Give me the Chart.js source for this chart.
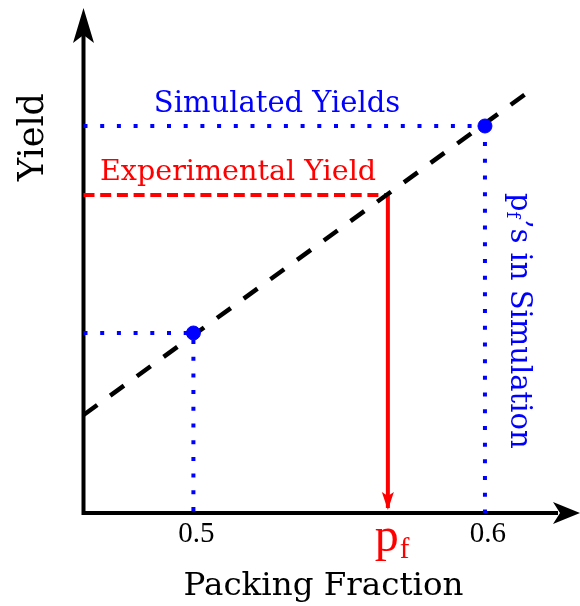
<!DOCTYPE html>
<html>
<head>
<meta charset="utf-8">
<title>Yield vs Packing Fraction</title>
<script src="https://cdn.jsdelivr.net/npm/chart.js@4.4.1/dist/chart.umd.min.js"></script>
<style>
  body { margin: 0; background: #fff; }
  #wrap { width: 580px; height: 606px; }
</style>
</head>
<body>
<div id="wrap"><canvas id="chart" width="580" height="606"></canvas></div>
<script>
/* =====================
  Data
===================== */
var xRange = [0.4623, 0.6326];
var yRange = [0, 5.05];

var tickValues = [0.5, 0.6];
var tickLabels = ['0.5', '0.6'];

// simulated packing fractions and their yields
var simX = [0.5, 0.6];
var simYield = [1.80, 3.87];

// dashed fit line end points
var fitX = [0.4623, 0.6144];
var fitY = [0.98, 4.20];

// experimental yield and the p_f it maps to
var expX = [0.5667];
var expYield = [3.18];
var arrowEndY = [0.05];

var BLUE = '#0000ff';
var RED = '#ff0000';

/* =====================
  Datasets
===================== */
var guideData = function(i) {
  return [
    {x: xRange[0], y: simYield[i]},
    {x: simX[i], y: simYield[i]},
    {x: simX[i], y: yRange[0]}
  ];
};

var datasets = [];

datasets.push({
  label: 'Simulated Yields',
  data: simX.map(function(x, i) { return {x: x, y: simYield[i]}; }),
  backgroundColor: BLUE,
  borderColor: BLUE,
  pointRadius: 7,
  showLine: false,
  order: 0
});

datasets.push({
  label: 'fit',
  data: fitX.map(function(x, i) { return {x: x, y: fitY[i]}; }),
  borderColor: '#000',
  borderWidth: 4.5,
  borderDash: [17, 16],
  pointRadius: 0,
  showLine: true,
  order: 1
});

datasets.push({
  label: 'Experimental Yield',
  data: [{x: xRange[0], y: expYield[0]}, {x: expX[0], y: expYield[0]}],
  borderColor: RED,
  borderWidth: 4,
  borderDash: [11, 5.7],
  pointRadius: 0,
  showLine: true,
  order: 2
});

datasets.push({
  label: 'pf arrow',
  data: [{x: expX[0], y: expYield[0]}, {x: expX[0], y: arrowEndY[0]}],
  borderColor: RED,
  borderWidth: 4,
  pointRadius: 0,
  showLine: true,
  order: 2
});

simX.forEach(function(x, i) {
  datasets.push({
    label: 'guide ' + i,
    data: guideData(i),
    borderColor: BLUE,
    borderWidth: 4,
    borderDash: [4, 12.7],
    pointRadius: 0,
    showLine: true,
    order: 3
  });
});

datasets.forEach(function(d) { d.clip = false; });

/* =====================
  Drawing helpers
===================== */
var arrowHead = function(ctx, pts) {
  ctx.beginPath();
  ctx.moveTo(pts[0][0], pts[0][1]);
  for (var i = 1; i < pts.length; i++) ctx.lineTo(pts[i][0], pts[i][1]);
  ctx.closePath();
  ctx.fill();
};

var axesPlugin = {
  id: 'axes',
  beforeDatasetsDraw: function(chart) {
    var ctx = chart.ctx, a = chart.chartArea;
    ctx.save();
    ctx.strokeStyle = '#000';
    ctx.fillStyle = '#000';
    ctx.lineWidth = 4;
    ctx.beginPath();
    ctx.moveTo(a.left, a.top + 25);
    ctx.lineTo(a.left, a.bottom);
    ctx.lineTo(a.right - 22, a.bottom);
    ctx.stroke();
    // y arrow
    arrowHead(ctx, [[a.left, a.top], [a.left + 10.5, a.top + 35], [a.left, a.top + 27], [a.left - 10.5, a.top + 35]]);
    // x arrow
    arrowHead(ctx, [[a.right, a.bottom], [a.right - 27, a.bottom + 11], [a.right - 20, a.bottom], [a.right - 27, a.bottom - 11]]);
    ctx.restore();
  },
  afterDatasetsDraw: function(chart) {
    var ctx = chart.ctx;
    var xs = chart.scales.x, ys = chart.scales.y;
    ctx.save();

    // red arrow head at p_f
    var px = xs.getPixelForValue(expX[0]);
    var py = ys.getPixelForValue(arrowEndY[0]);
    ctx.fillStyle = RED;
    arrowHead(ctx, [[px, py + 2], [px + 6, py - 16], [px, py - 12], [px - 6, py - 16]]);

    // tick labels
    ctx.fillStyle = '#000';
    ctx.textAlign = 'center';
    ctx.textBaseline = 'alphabetic';
    ctx.font = '29px "Liberation Serif"';
    tickValues.forEach(function(v, i) {
      ctx.fillText(tickLabels[i], xs.getPixelForValue(v) + 3, 542);
    });

    // p_f under the axis
    ctx.fillStyle = RED;
    ctx.textAlign = 'left';
    ctx.font = '48px "Liberation Serif"';
    ctx.fillText('p', px - 13, 551);
    var pw = ctx.measureText('p').width;
    ctx.font = '29px "Liberation Serif"';
    ctx.fillText('f', px - 13 + pw + 1, 558);

    // axis titles
    ctx.fillStyle = '#000';
    ctx.textAlign = 'center';
    ctx.font = '32.5px "DejaVu Serif"';
    ctx.fillText('Packing Fraction', 323.5, 595);

    ctx.save();
    ctx.translate(43, 137);
    ctx.rotate(-Math.PI / 2);
    ctx.font = '35px "DejaVu Serif"';
    ctx.fillText('Yield', 0, 0);
    ctx.restore();

    // annotations
    ctx.fillStyle = BLUE;
    ctx.font = '29px "DejaVu Serif"';
    ctx.fillText('Simulated Yields', 277, 112);

    ctx.fillStyle = RED;
    ctx.font = '28.6px "DejaVu Serif"';
    ctx.fillText('Experimental Yield', 238, 180);

    // vertical p_f's in Simulation
    ctx.save();
    ctx.translate(511, 193);
    ctx.rotate(Math.PI / 2);
    ctx.fillStyle = BLUE;
    ctx.textAlign = 'left';
    ctx.font = '29px "DejaVu Serif"';
    ctx.fillText('p', 0, 0);
    var w = ctx.measureText('p').width;
    ctx.font = '18px "DejaVu Serif"';
    ctx.fillText('f', w, 4);
    w += ctx.measureText('f').width + 1;
    ctx.font = '29px "DejaVu Serif"';
    ctx.fillText('\u2019s in Simulation', w, 0);
    ctx.restore();

    ctx.restore();
  }
};

/* =====================
  Chart
===================== */
var chart = new Chart(document.getElementById('chart').getContext('2d'), {
  type: 'scatter',
  data: { datasets: datasets },
  options: {
    responsive: false,
    animation: false,
    devicePixelRatio: 1,
    layout: { autoPadding: false, padding: { left: 83.5, top: 8, right: 0, bottom: 93 } },
    plugins: { legend: { display: false }, tooltip: { enabled: false } },
    scales: {
      x: { type: 'linear', min: xRange[0], max: xRange[1], display: false },
      y: { type: 'linear', min: yRange[0], max: yRange[1], display: false }
    }
  },
  plugins: [axesPlugin]
});
</script>
</body>
</html>
